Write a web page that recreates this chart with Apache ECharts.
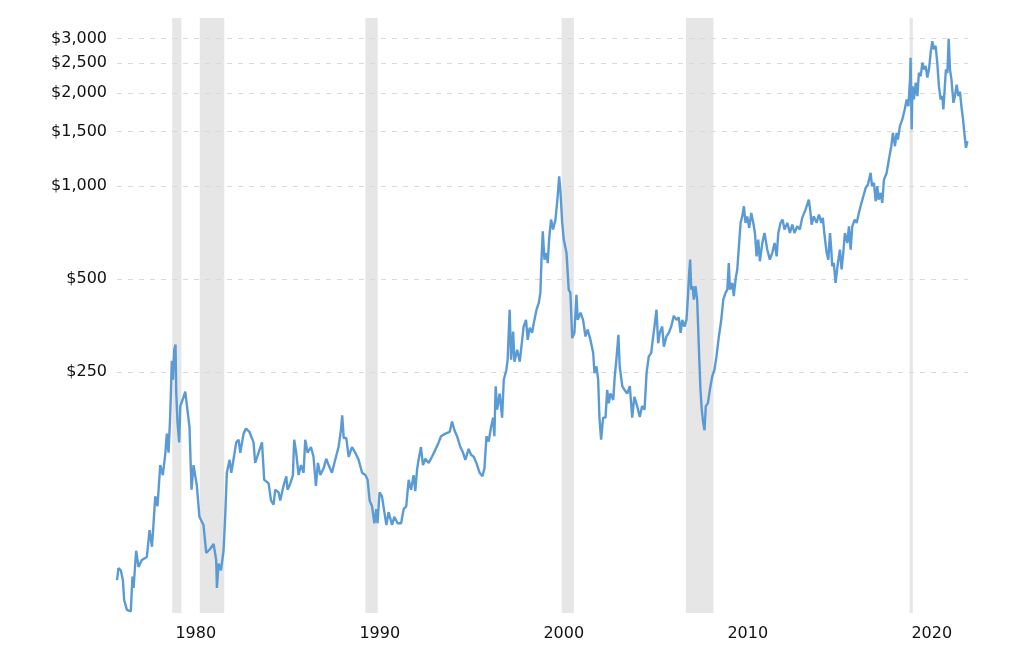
<!DOCTYPE html>
<html>
<head>
<meta charset="utf-8">
<script src="https://cdn.jsdelivr.net/npm/echarts@6/dist/echarts.min.js"></script>
<style>
html,body{margin:0;padding:0;background:#fff;}
#chart{width:1024px;height:646px;}
</style>
</head>
<body>
<div id="chart"></div>
<script>
// Decimal-year dates and prices (USD per ounce)
const dates = [
1977.00,1977.08,1977.21,1977.32,1977.39,1977.54,1977.75,1977.84,1977.90,1978.04,1978.17,1978.35,1978.62,1978.77,1978.90,1978.98,
1979.08,1979.20,1979.35,1979.49,1979.62,1979.71,1979.80,1979.89,1979.98,1980.04,1980.11,1980.18,1980.22,1980.29,1980.38,1980.44,
1980.56,1980.71,1980.83,1980.94,1981.05,1981.16,1981.34,1981.48,1981.70,1981.85,1982.07,1982.25,1982.39,1982.43,1982.52,1982.65,
1982.79,1982.88,1982.97,1983.12,1983.21,1983.33,1983.48,1983.61,1983.70,1983.88,1984.01,1984.20,1984.42,1984.51,1984.69,1984.88,
1985.00,1985.24,1985.37,1985.51,1985.60,1985.78,1985.87,1986.05,1986.20,1986.27,1986.42,1986.56,1986.63,1986.74,1986.87,1987.00,
1987.14,1987.23,1987.36,1987.54,1987.68,1987.81,1987.92,1988.05,1988.23,1988.37,1988.50,1988.68,1988.86,1989.04,1989.17,1989.24,
1989.32,1989.46,1989.59,1989.77,1989.95,1990.13,1990.32,1990.50,1990.62,1990.73,1990.86,1990.99,1991.09,1991.16,1991.27,1991.40,
1991.53,1991.64,1991.76,1991.95,1992.07,1992.25,1992.44,1992.58,1992.72,1992.85,1992.98,1993.12,1993.21,1993.31,1993.39,1993.52,
1993.63,1993.76,1993.94,1994.12,1994.30,1994.48,1994.61,1994.85,1995.08,1995.21,1995.34,1995.48,1995.66,1995.81,1995.93,1996.11,
1996.24,1996.39,1996.53,1996.71,1996.86,1996.97,1997.08,1997.20,1997.33,1997.44,1997.51,1997.58,1997.66,1997.80,1997.93,1998.02,
1998.16,1998.23,1998.34,1998.42,1998.53,1998.60,1998.75,1998.89,1999.02,1999.10,1999.23,1999.32,1999.43,1999.56,1999.65,1999.80,
1999.92,2000.01,2000.07,2000.14,2000.23,2000.34,2000.41,2000.49,2000.59,2000.70,2000.83,2000.95,2001.03,2001.10,2001.19,2001.28,
2001.43,2001.55,2001.64,2001.74,2001.86,2001.97,2002.04,2002.19,2002.33,2002.46,2002.58,2002.73,2002.88,2002.95,2003.06,2003.15,
2003.22,2003.31,2003.42,2003.55,2003.64,2003.73,2003.82,2003.97,2004.05,2004.14,2004.25,2004.32,2004.46,2004.58,2004.73,2004.87,
2005.00,2005.12,2005.27,2005.41,2005.54,2005.67,2005.78,2005.90,2006.03,2006.14,2006.21,2006.32,2006.41,2006.50,2006.63,2006.72,
2006.86,2006.99,2007.12,2007.26,2007.41,2007.53,2007.63,2007.72,2007.84,2007.95,2008.02,2008.10,2008.15,2008.21,2008.28,2008.35,
2008.44,2008.53,2008.59,2008.64,2008.71,2008.78,2008.86,2008.93,2009.00,2009.11,2009.22,2009.35,2009.47,2009.58,2009.71,2009.84,
2009.95,2010.07,2010.17,2010.25,2010.31,2010.44,2010.52,2010.62,2010.71,2010.80,2010.89,2010.98,2011.07,2011.16,2011.25,2011.36,
2011.47,2011.58,2011.67,2011.76,2011.85,2011.94,2012.07,2012.19,2012.34,2012.48,2012.61,2012.74,2012.85,2012.94,2013.06,2013.17,
2013.28,2013.43,2013.57,2013.70,2013.82,2013.97,2014.11,2014.24,2014.42,2014.60,2014.69,2014.75,2014.87,2015.02,2015.15,2015.28,
2015.36,2015.46,2015.57,2015.66,2015.75,2015.82,2015.87,2015.96,2016.05,2016.18,2016.29,2016.38,2016.47,2016.56,2016.69,2016.78,
2016.87,2016.96,2017.09,2017.20,2017.32,2017.41,2017.56,2017.69,2017.81,2017.96,2018.03,2018.14,2018.23,2018.32,2018.39,2018.50,
2018.59,2018.68,2018.83,2018.95,2019.08,2019.17,2019.28,2019.37,2019.44,2019.55,2019.68,2019.81,2019.92,2020.01,2020.10,2020.13,
2020.19,2020.23,2020.31,2020.41,2020.50,2020.58,2020.68,2020.77,2020.86,2020.95,2021.04,2021.13,2021.22,2021.31,2021.40,2021.49,
2021.58,2021.67,2021.76,2021.86,2021.91,2021.98,2022.05,2022.13,2022.20,2022.27,2022.35,2022.46,2022.54,2022.63,2022.73,2022.81,
2022.89,2022.98,2023.07,2023.14,2023.22
];
const prices = [
53,58,57,53,45.7,42.5,42,54.5,50,66,58.5,61.6,63,77,68,80,
99,92,125,116,135,158,137,180,272,236,295,307,214,171,148,194,
203,216,188,166,104,125,107,85,80,65,67,69.5,61.6,50,60,57,
66,85,118,130,118,130,148,151,137,158,164,160,148,127,137,148,
112,109,96,93,104,102,96,107,115,104,109,116,151,137,116,125,
118,151,137,143,133,107,127,116,122,131,125,118,130,143,162,181,
153,153,133,143,137,130,118,116,112,96,92,81,90,81,102,99,
88,80,88,80,85,81,81,90,92,112,104,116,103,121,130,143,
125,131,127,133,140,148,155,158,160,173,162,155,143,137,130,141,
135,133,127,118,115,122,155,149,166,178,155,225,189,213,178,236,
254,274,398,274,338,270,295,270,318,351,369,318,348,335,360,398,
418,451,578,714,578,607,563,680,779,723,779,927,1076,962,769,671,
607,462,451,322,335,445,369,389,369,326,343,318,288,248,261,236,
178,151,178,178,219,198,213,203,242,274,330,261,225,219,213,225,
178,208,194,179,194,189,248,281,288,326,351,398,310,335,351,302,
326,335,351,380,369,376,335,369,351,369,429,528,578,462,474,429,
474,429,343,281,219,189,171,162,194,198,219,242,254,281,326,369,
429,451,462,563,462,486,440,500,537,638,760,798,860,760,798,732,
819,760,705,592,671,571,654,705,623,578,607,654,592,705,760,779,
723,760,705,750,705,741,723,789,839,904,819,750,798,760,809,760,
789,688,607,578,705,623,550,563,486,563,623,537,607,705,654,741,
623,741,779,760,819,860,927,987,1012,1104,1000,1024,893,1000,904,950,
882,1047,1104,1219,1346,1487,1346,1487,1415,1563,1643,1770,1907,1815,2214,2600,
1524,2106,1907,2160,1955,2324,2270,2510,2387,2447,2245,2387,2700,2945,2770,2845,
2510,2106,1907,1955,1770,2050,2387,2324,3000,2387,2214,1860,1955,2130,1955,2020,
1815,1643,1450,1330,1398
];
// Recession periods (decimal years)
const recessionStart = [1980.00, 1981.50, 1990.50, 2001.17, 2007.92, 2020.08];
const recessionEnd   = [1980.50, 1982.83, 1991.17, 2001.83, 2009.42, 2020.25];
// Tick labels
const yTickValues = [250, 500, 1000, 1500, 2000, 2500, 3000];
const xTickLabels = ['1980', '1990', '2000', '2010', '2020'];

const LABEL_SHIFT = 1.28; // the source chart draws its decade labels slightly right of Jan 1
const FONT = 'DejaVu Sans, Verdana, sans-serif';

const chart = echarts.init(document.getElementById('chart'), null, {renderer: 'canvas'});
const lineData = dates.map((d, i) => [d, prices[i]]);

chart.setOption({
  animation: false,
  backgroundColor: '#ffffff',
  grid: {left: 117, right: 56, top: 18, bottom: 33},
  xAxis: {
    type: 'value',
    min: 1977.0,
    max: 2023.25,
    axisLine: {show: false},
    axisTick: {show: false},
    splitLine: {show: false},
    axisLabel: {
      customValues: xTickLabels.map(l => Number(l) + LABEL_SHIFT),
      formatter: v => String(Math.round(v - LABEL_SHIFT)),
      color: '#111',
      fontSize: 16,
      fontFamily: FONT,
      margin: 13
    }
  },
  yAxis: {
    type: 'log',
    logBase: 10,
    min: 41.5,
    max: 3500,
    axisLine: {show: false},
    axisTick: {show: false},
    splitLine: {show: false},
    axisLabel: {
      customValues: yTickValues,
      formatter: v => '$' + Math.round(v).toLocaleString('en-US'),
      color: '#111',
      fontSize: 16,
      fontFamily: FONT,
      margin: 10
    }
  },
  series: [
    {
      type: 'line',
      data: [],
      silent: true,
      markArea: {
        silent: true,
        z: 1,
        itemStyle: {color: '#e6e6e6'},
        data: recessionStart.map((s, i) => [{xAxis: s}, {xAxis: recessionEnd[i]}])
      },
      markLine: {
        silent: true,
        z: 2,
        symbol: ['none', 'none'],
        label: {show: false},
        lineStyle: {color: '#d9d9d9', type: [5, 6], width: 1},
        data: yTickValues.map(v => ({yAxis: v}))
      }
    },
    {
      type: 'line',
      z: 10,
      data: lineData,
      showSymbol: false,
      symbol: 'none',
      lineStyle: {color: '#5b9bd5', width: 2.4},
      itemStyle: {color: '#5b9bd5'}
    }
  ]
});
</script>
</body>
</html>
